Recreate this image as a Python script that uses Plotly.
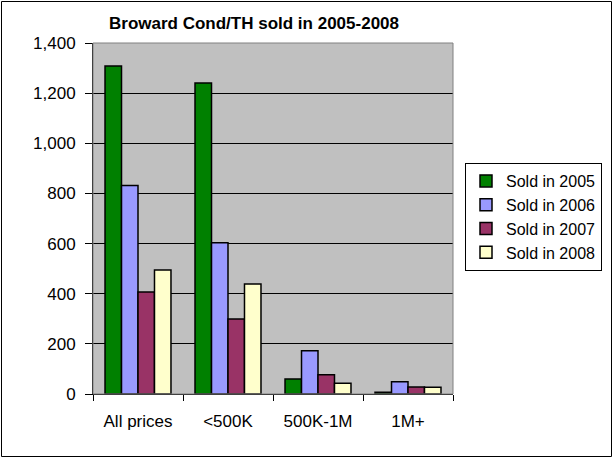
import plotly.graph_objects as go

categories = ["All prices", "<500K", "500K-1M", "1M+"]
series_names = ["Sold in 2005", "Sold in 2006", "Sold in 2007", "Sold in 2008"]
sold_2005 = [1308, 1240, 60, 7]
sold_2006 = [832, 603, 173, 49]
sold_2007 = [407, 299, 77, 28]
sold_2008 = [495, 439, 43, 27]
colors = ["#008000", "#9999FF", "#993366", "#FFFFCC"]
y_ticks = [0, 200, 400, 600, 800, 1000, 1200, 1400]

FONT = "Liberation Sans, Arial, sans-serif"
W, H = 613, 458
L, R, T, B = 93, 160, 43, 64
pw, ph = W - L - R, H - T - B

def px(x):
    return (x - L) / pw

def py(y):
    return (H - B - y) / ph

fig = go.Figure()
for name, vals, c in zip(series_names, [sold_2005, sold_2006, sold_2007, sold_2008], colors):
    fig.add_trace(go.Bar(
        x=categories, y=vals, name=name,
        marker=dict(color=c, line=dict(color="black", width=1.5)),
    ))

fig.update_layout(
    width=W, height=H,
    margin=dict(l=L, r=R, t=T, b=B, pad=0, autoexpand=False),
    paper_bgcolor="white",
    plot_bgcolor="#C0C0C0",
    barmode="group",
    bargap=0.267,
    bargroupgap=0,
    font=dict(family=FONT, size=17, color="black"),
    title=dict(
        text="<b>Broward Cond/TH sold in 2005-2008</b>",
        font=dict(family=FONT, size=17, color="black"),
        x=px(254), xref="paper", xanchor="center",
        y=1 - 23 / H, yref="container", yanchor="middle",
    ),
    legend=dict(
        x=465 / W, y=1 - 163 / H, xanchor="left", yanchor="top",
        xref="container", yref="container",
        bordercolor="black", borderwidth=1, bgcolor="white",
        font=dict(family=FONT, size=16, color="black"),
        tracegroupgap=0,
        itemwidth=30,
    ),
    xaxis=dict(
        type="category",
        automargin=False,
        showline=True, linecolor="black", linewidth=1,
        ticks="outside", tickson="boundaries", ticklen=6, tickcolor="black",
        ticklabelstandoff=12,
        showgrid=False,
        tickfont=dict(family=FONT, size=17, color="black"),
    ),
    yaxis=dict(
        automargin=False,
        range=[0, 1400],
        tickvals=y_ticks,
        tickformat=",d",
        showline=True, linecolor="black", linewidth=1,
        ticks="outside", ticklen=7, tickcolor="black",
        ticklabelstandoff=6,
        showgrid=True, gridcolor="black", gridwidth=1,
        zeroline=False,
        tickfont=dict(family=FONT, size=17, color="black"),
    ),
    shapes=[
        dict(type="rect", xref="paper", yref="paper",
             x0=0, x1=1, y0=0, y1=1,
             line=dict(color="#808080", width=1), layer="above"),
        dict(type="rect", xref="paper", yref="paper",
             x0=px(1.5), x1=px(611.5), y0=py(1.5), y1=py(456.5),
             line=dict(color="black", width=1), layer="above"),
    ],
)

fig.write_html(
    "out.html",
    config={"displayModeBar": False},
    post_script="document.body.style.margin='0';document.body.style.overflow='hidden';",
)
